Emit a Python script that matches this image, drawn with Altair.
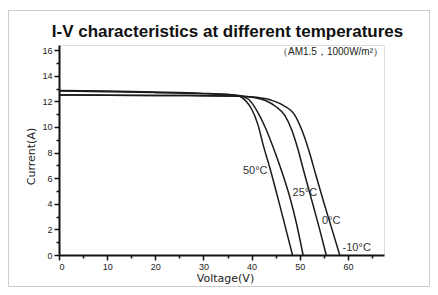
import altair as alt
import pandas as pd

# ---- data ----
v_50 = [0, 10, 20, 30, 34, 36, 37.5, 39, 40, 41.3, 42.4, 43.8, 45.5, 47, 48.5]
i_50 = [12.85, 12.8, 12.72, 12.62, 12.56, 12.5, 12.4, 11.95, 11.4, 10.2, 8.6, 6.8, 4.4, 2.2, 0]

v_25 = [0, 10, 20, 30, 34, 36.5, 38.5, 40, 41.2, 42.8, 44.5, 46.2, 47.8, 49.3, 50.7]
i_25 = [12.8, 12.75, 12.68, 12.6, 12.55, 12.5, 12.35, 11.9, 11.2, 10.0, 8.4, 6.6, 4.7, 2.5, 0]

v_0 = [0, 10, 20, 30, 35, 38, 40.5, 43, 45, 46.9, 48.3, 49.6, 50.8, 52.4, 54, 55.5]
i_0 = [12.5, 12.48, 12.46, 12.44, 12.42, 12.4, 12.3, 12.05, 11.6, 10.9, 9.8, 8.3, 6.6, 4.4, 2.2, 0]

v_m10 = [0, 10, 20, 30, 35, 38, 41, 44, 46.5, 49, 50.7, 52.1, 53.3, 55, 56.7, 58.3]
i_m10 = [12.5, 12.48, 12.46, 12.44, 12.42, 12.4, 12.32, 12.1, 11.7, 10.9, 9.5, 7.9, 6.3, 4.1, 2.0, 0]

label_text = ["50°C", "25°C", "0°C", "-10°C"]
label_v = [38.2, 48.5, 54.6, 58.9]
label_i = [6.3, 4.6, 2.4, 0.3]

x_ticks = [0, 5, 10, 15, 20, 25, 30, 35, 40, 45, 50, 55, 60, 65]
y_ticks = list(range(0, 17))

title_text = "I-V characteristics at different temperatures"
subtitle_text = "（AM1.5，1000W/m²）"

# ---- build table ----
rows = []
for name, vs, cs in [("50°C", v_50, i_50), ("25°C", v_25, i_25),
                     ("0°C", v_0, i_0), ("-10°C", v_m10, i_m10)]:
    for k, (v, c) in enumerate(zip(vs, cs)):
        rows.append({"T": name, "V": v, "I": c, "o": k})
curves = pd.DataFrame(rows)
labels = pd.DataFrame({"t": label_text, "V": label_v, "I": label_i})

W, H = 325, 210
xs = alt.Scale(domain=[0, 67.5], nice=False, zero=False)
ys = alt.Scale(domain=[0, 16.4], nice=False, zero=False)

axis_font = "Liberation Sans"

x_axis = alt.Axis(values=x_ticks, title="Voltage(V)", grid=False, labelOverlap=False,
                  labelExpr="datum.value % 10 === 0 ? datum.label : ''",
                  domainColor="#111", domainWidth=2, tickColor="#111",
                  tickWidth=1.5,
                  tickSize={"condition": {"test": "datum.value % 10 === 0", "value": 5}, "value": 3},
                  labelFont=axis_font, labelFontSize=9,
                  labelColor="#222", labelPadding=2, titleFont="DejaVu Sans",
                  titleFontSize=11, titleFontWeight="normal", titleColor="#222",
                  titleY=17, titleX=166)
y_axis = alt.Axis(values=y_ticks, title="Current(A)", grid=False, labelOverlap=False,
                  labelExpr="datum.value % 2 === 0 ? datum.label : ''",
                  domainColor="#111", domainWidth=2, tickColor="#111",
                  tickWidth=1.5,
                  tickSize={"condition": {"test": "datum.value % 2 === 0", "value": 5}, "value": 3},
                  labelFont=axis_font, labelFontSize=9,
                  labelColor="#222", labelPadding=2, titleFont="DejaVu Sans",
                  titleFontSize=11, titleFontWeight="normal", titleColor="#222",
                  titleX=-23, titleY=111)

lines = alt.Chart(curves).mark_line(color="#1a1a1a", strokeWidth=1.5,
                                    interpolate="monotone").encode(
    x=alt.X("V:Q", scale=xs, axis=x_axis),
    y=alt.Y("I:Q", scale=ys, axis=y_axis),
    detail="T:N",
    order="o:Q",
)

texts = alt.Chart(labels).mark_text(align="left", baseline="alphabetic",
                                    font=axis_font, fontSize=11, color="#333").encode(
    x=alt.X("V:Q", scale=xs, axis=x_axis), y=alt.Y("I:Q", scale=ys, axis=y_axis), text="t:N")

sub = alt.Chart(pd.DataFrame({"s": [subtitle_text]})).mark_text(
    align="left", baseline="alphabetic", font=axis_font, fontSize=10, color="#222"
).encode(x=alt.value(219), y=alt.value(10), text="s:N")

border = alt.Chart(pd.DataFrame({"b": [1]})).mark_rect(
    fillOpacity=0, stroke="#9a9a9a", strokeWidth=1, strokeDash=[1, 1]
).encode(x=alt.value(-50.5), x2=alt.value(370.5), y=alt.value(-34.5), y2=alt.value(241.5))

chart = alt.layer(border, lines, texts, sub).properties(
    width=W, height=H,
    padding={"left": 51, "top": 37, "right": 46, "bottom": 32},
    autosize=alt.AutoSizeParams(type="none"),
    title=alt.TitleParams(text=title_text, font=axis_font, fontSize=17,
                          fontWeight="bold", color="#111", anchor="middle",
                          dx=6, offset=-31),
).configure_view(stroke=None).configure_axis(labelOverlap=False).configure(background="white")

chart.save("out.html", embed_options={"renderer": "svg", "actions": False})
